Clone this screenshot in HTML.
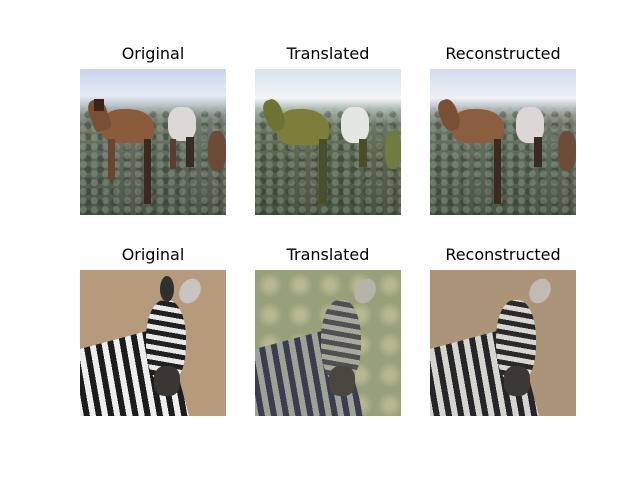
<!DOCTYPE html>
<html><head><meta charset="utf-8"><style>
html,body{margin:0;padding:0;background:#fff;width:640px;height:480px;overflow:hidden;position:relative;font-family:"DejaVu Sans","Liberation Sans",sans-serif}
.t{position:absolute;width:200px;text-align:center;font-size:16px;color:#000;line-height:18px}
.im{position:absolute;width:146px;height:146px;overflow:hidden}
.im div{position:absolute}
.veg{left:0;top:38px;width:146px;height:108px;background:radial-gradient(circle at 30% 40%,rgba(160,170,160,.35) 0 3px,transparent 4px) 0 0/11px 9px,radial-gradient(circle at 60% 70%,rgba(30,40,30,.35) 0 3px,transparent 4px) 0 0/13px 11px}
</style></head><body>
<div class="t" style="left:53px;top:45px">Original</div>
<div class="t" style="left:228px;top:45px">Translated</div>
<div class="t" style="left:403px;top:45px">Reconstructed</div>
<div class="t" style="left:53px;top:246px">Original</div>
<div class="t" style="left:228px;top:246px">Translated</div>
<div class="t" style="left:403px;top:246px">Reconstructed</div>

<!-- horse row -->
<div class="im" style="left:80px;top:69px;background:linear-gradient(#c8d4ee 0%,#e6ecf6 18%,#b9c3c8 25%,#6f7a6c 35%,#5d6a5a 60%,#4b5548 100%)">
 <div class="veg"></div>
 <div style="left:22px;top:40px;width:52px;height:34px;background:#8a5c3c;border-radius:40% 50% 30% 30%"></div>
 <div style="left:10px;top:30px;width:18px;height:32px;background:#7a5034;border-radius:40% 40% 20% 20%;transform:rotate(-20deg)"></div>
 <div style="left:14px;top:30px;width:10px;height:12px;background:#3a2418"></div>
 <div style="left:28px;top:70px;width:7px;height:40px;background:#6c4430"></div>
 <div style="left:64px;top:70px;width:7px;height:65px;background:#3c2a20"></div>
 <div style="left:88px;top:38px;width:28px;height:34px;background:#dcd8d8;border-radius:40%"></div>
 <div style="left:90px;top:70px;width:6px;height:30px;background:#5a3c30"></div>
 <div style="left:106px;top:68px;width:8px;height:30px;background:#3a2a24"></div>
 <div style="left:128px;top:62px;width:18px;height:40px;background:#6c4a38;border-radius:40%"></div>
</div>
<div class="im" style="left:255px;top:69px;background:linear-gradient(#d8e4ee 0%,#f2f4f6 20%,#aab8b0 28%,#6c7862 38%,#5a6650 60%,#485440 100%)">
 <div class="veg"></div>
 <div style="left:22px;top:40px;width:52px;height:36px;background:#7c7e3a;border-radius:40% 50% 30% 30%"></div>
 <div style="left:10px;top:30px;width:18px;height:32px;background:#6e7234;border-radius:40%;transform:rotate(-20deg)"></div>
 <div style="left:64px;top:70px;width:8px;height:65px;background:#4a4e2c"></div>
 <div style="left:86px;top:38px;width:28px;height:36px;background:#e4e6e2;border-radius:40%"></div>
 <div style="left:104px;top:70px;width:8px;height:28px;background:#4a4e2c"></div>
 <div style="left:130px;top:62px;width:16px;height:38px;background:#6e7c40;border-radius:40%"></div>
</div>
<div class="im" style="left:430px;top:69px;background:linear-gradient(#d2dcee 0%,#eef0f6 20%,#b5bcbc 27%,#6f7a6a 36%,#5d6a58 60%,#4a5446 100%)">
 <div class="veg"></div>
 <div style="left:22px;top:40px;width:52px;height:34px;background:#8c5e40;border-radius:40% 50% 30% 30%"></div>
 <div style="left:10px;top:30px;width:18px;height:32px;background:#7a5034;border-radius:40%;transform:rotate(-20deg)"></div>
 <div style="left:64px;top:70px;width:7px;height:65px;background:#3c2a20"></div>
 <div style="left:86px;top:38px;width:28px;height:36px;background:#ddd6d6;border-radius:40%"></div>
 <div style="left:104px;top:68px;width:8px;height:30px;background:#3a2a24"></div>
 <div style="left:128px;top:62px;width:18px;height:40px;background:#6e4c3a;border-radius:40%"></div>
</div>

<!-- zebra row -->
<div class="im" style="left:80px;top:270px;background:#b59a7c">
 <div style="left:-20px;top:70px;width:120px;height:100px;transform:rotate(-15deg);background:repeating-linear-gradient(95deg,#1c1c1c 0 6px,#eeeeee 6px 12px)"></div>
 <div style="left:66px;top:30px;width:40px;height:84px;border-radius:45%;background:repeating-linear-gradient(10deg,#202020 0 5px,#e8e8e8 5px 10px)"></div>
 <div style="left:100px;top:8px;width:20px;height:26px;border-radius:50%;background:#c8c4c0;transform:rotate(30deg)"></div>
 <div style="left:80px;top:6px;width:14px;height:26px;border-radius:50%;background:#303030"></div>
 <div style="left:74px;top:96px;width:26px;height:30px;background:#3a3634;border-radius:40%"></div>
</div>
<div class="im" style="left:255px;top:270px;background:radial-gradient(circle,#b8b890 0 20%,#98a07a 60%) 0 0/30px 30px,#a8aa86">
 <div style="left:-20px;top:70px;width:120px;height:100px;transform:rotate(-15deg);background:repeating-linear-gradient(95deg,#3c3c50 0 6px,#9ca294 6px 12px)"></div>
 <div style="left:66px;top:30px;width:40px;height:84px;border-radius:45%;background:repeating-linear-gradient(10deg,#505050 0 5px,#a8a89c 5px 10px)"></div>
 <div style="left:100px;top:8px;width:20px;height:26px;border-radius:50%;background:#b4b4a8;transform:rotate(30deg)"></div>
 <div style="left:74px;top:96px;width:26px;height:30px;background:#4a4640;border-radius:40%"></div>
</div>
<div class="im" style="left:430px;top:270px;background:#ab9478">
 <div style="left:-20px;top:70px;width:120px;height:100px;transform:rotate(-15deg);background:repeating-linear-gradient(95deg,#262628 0 6px,#d6d4d0 6px 12px)"></div>
 <div style="left:66px;top:30px;width:40px;height:84px;border-radius:45%;background:repeating-linear-gradient(10deg,#2a2a2a 0 5px,#d8d6d0 5px 10px)"></div>
 <div style="left:100px;top:8px;width:20px;height:26px;border-radius:50%;background:#c0bcb4;transform:rotate(30deg)"></div>
 <div style="left:74px;top:96px;width:26px;height:30px;background:#3c3836;border-radius:40%"></div>
</div>
</body></html>
